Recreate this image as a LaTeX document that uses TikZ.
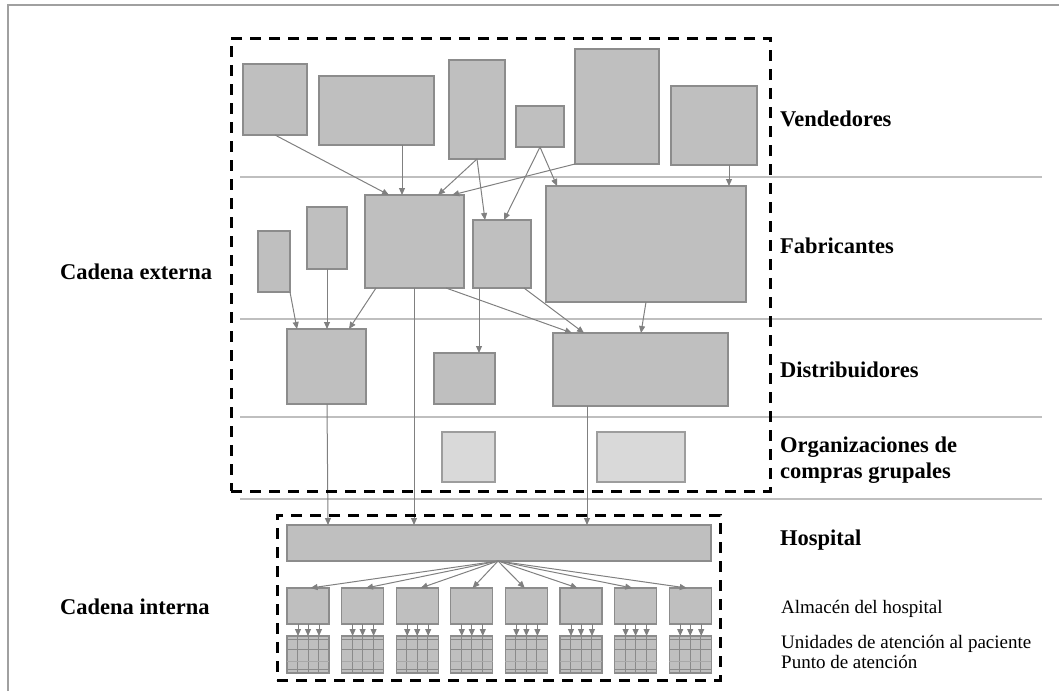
\documentclass[tikz,border=0pt]{standalone}
\usepackage{fontspec}
\setmainfont{Liberation Serif}
\usetikzlibrary{arrows.meta}
\definecolor{boxfill}{HTML}{BFBFBF}
\definecolor{boxedge}{HTML}{8C8C8C}
\definecolor{lightfill}{HTML}{D9D9D9}
\definecolor{arrowgray}{HTML}{808080}
\definecolor{rulegray}{HTML}{BFBFBF}
\definecolor{framegray}{HTML}{A0A0A0}
\definecolor{gridline}{HTML}{8A8A8A}
\definecolor{gridlight}{HTML}{A8A8A8}

% box given by its top-left and bottom-right corners
\newcommand\putbox[6][box]{%
  \node[#1,minimum width={(#5-#3)*1pt},minimum height={(#6-#4)*1pt}] (#2) at (#3,#4) {};}

\begin{document}
\begin{tikzpicture}[x=1pt,y=-1pt,
  box/.style={draw=boxedge,fill=boxfill,line width=1.2pt,inner sep=0pt,outer sep=0pt,anchor=north west},
  lightbox/.style={box,fill=lightfill,draw=boxedge!85},
  chainbox/.style={draw=black,line width=3pt,dash pattern=on 11pt off 8pt,inner sep=0pt,outer sep=0pt,anchor=north west},
  flow/.style={draw=arrowgray,line width=1pt,-{Triangle[length=7pt,width=6pt]}},
  sep/.style={draw=rulegray,line width=1.5pt},
  tier/.style={font=\fontsize{22.5}{26}\selectfont\bfseries,anchor=base west,inner sep=0pt},
  note/.style={font=\fontsize{19}{22}\selectfont,anchor=base west,inner sep=0pt}]

\useasboundingbox (0,0) rectangle (1059,691);

% page frame (top and left edges)
\draw[framegray,line width=2pt] (8,691) -- (8,5) -- (1059,5);

% tier separators
\foreach \yy in {177,319,417,499}
  \draw[sep] (240,\yy) -- (1042,\yy);

% vendors
\putbox{v1}{243}{64}{307}{135}
\putbox{v2}{319}{76}{434}{145}
\putbox{v3}{449}{60}{505}{159}
\putbox{v4}{516}{106}{564}{147}
\putbox{v5}{575}{49}{659}{164}
\putbox{v6}{671}{86}{757}{165}
% manufacturers
\putbox{f1}{258}{231}{290}{292}
\putbox{f2}{307}{207}{347}{269}
\putbox{f3}{365}{195}{464}{288}
\putbox{f4}{473}{220}{531}{288}
\putbox{f5}{546}{186}{746}{302}
% distributors
\putbox{d1}{287}{329}{366}{404}
\putbox{d2}{434}{353}{495}{404}
\putbox{d3}{553}{333}{728}{406}
% group purchasing organisations
\putbox[lightbox]{g1}{442}{432}{495}{482}
\putbox[lightbox]{g2}{597}{432}{685}{482}
% hospital
\putbox{h}{287}{525}{711}{561}

% vendors -> manufacturers
\draw[flow] (v1.south) -- ([xshift=24pt]f3.north west);
\draw[flow] ([xshift=83pt]v2.south west) -- ([xshift=37pt]f3.north west);
\draw[flow] ([xshift=28pt]v3.south west) -- ([xshift=73pt]f3.north west);
\draw[flow] (v5.south west) -- ([xshift=87pt]f3.north west);
\draw[flow] ([xshift=28pt]v3.south west) -- ([xshift=12pt]f4.north west);
\draw[flow] (v4.south) -- ([xshift=31pt]f4.north west);
\draw[flow] (v4.south) -- ([xshift=11pt]f5.north west);
\draw[flow] ([xshift=58pt]v6.south west) -- ([xshift=183pt]f5.north west);
% manufacturers -> distributors
\draw[flow] (f1.south east) -- ([xshift=10pt]d1.north west);
\draw[flow] (f2.south) -- ([xshift=40pt]d1.north west);
\draw[flow] ([xshift=11pt]f3.south west) -- ([xshift=62pt]d1.north west);
\draw[flow] ([xshift=81pt]f3.south west) -- ([xshift=19pt]d3.north west);
\draw[flow] ([xshift=51pt]f4.south west) -- ([xshift=31pt]d3.north west);
\draw[flow] ([xshift=100pt]f5.south west) -- ([xshift=88pt]d3.north west);
\draw[flow] ([xshift=6pt]f4.south west) -- ([xshift=45pt]d2.north west);
% supply into the hospital
\draw[flow] ([xshift=40pt]d1.south west) -- ([xshift=41pt]h.north west);
\draw[flow] ([xshift=49pt]f3.south west) -- ([xshift=127pt]h.north west);
\draw[flow] ([xshift=34pt]d3.south west) -- ([xshift=300pt]h.north west);

% hospital stores and points of care
\coordinate (hub) at ([xshift=211pt]h.south west);
\foreach \i/\o in {0/23.5,1/24.4,2/24.4,3/21.8,4/19.3,5/17.6,6/17.6,7/17.6}{
  \pgfmathsetmacro\xx{287+54.6*\i}
  \putbox{s\i}{\xx}{588}{\xx+42}{624}
  \putbox{u\i}{\xx}{636}{\xx+42}{673}
  \foreach \c in {10.5,21,31.5}
    \draw[gridline,line width=1pt] ([xshift=\c pt]u\i.north west) -- ([xshift=\c pt]u\i.south west);
  \draw[gridline,line width=1pt] ([yshift=-3.7pt]u\i.north west) -- ([yshift=-3.7pt]u\i.north east);
  \draw[gridline,line width=1pt] ([yshift=-13.7pt]u\i.north west) -- ([yshift=-13.7pt]u\i.north east);
  \draw[gridlight,line width=0.8pt] ([yshift=-25.2pt]u\i.north west) -- ([yshift=-25.2pt]u\i.north east);
  \draw[gridline,line width=1pt] ([yshift=-33.7pt]u\i.north west) -- ([yshift=-33.7pt]u\i.north east);
  \draw[flow] (hub) -- ([xshift=\o pt]s\i.north west);
  \foreach \c in {11,21,32}
    \draw[flow] ([xshift=\c pt]s\i.south west) -- ([xshift=\c pt]u\i.north west);
}

% chain boundaries
\putbox[chainbox]{ext}{231}{38}{770}{491}
\putbox[chainbox]{int}{277}{515}{720}{680}

% labels
\node[tier] (lv) at (780,126) {Vendedores};
\node[tier] (lf) at (780,253) {Fabricantes};
\node[tier] (ld) at (780,377) {Distribuidores};
\node[tier] (lo1) at (780,452) {Organizaciones de};
\node[tier] (lo2) at (780,478) {compras grupales};
\node[tier] (lh) at (780,545) {Hospital};
\node[tier] (lce) at (60,279) {Cadena externa};
\node[tier] (lci) at (60,614) {Cadena interna};
\node[note] (la) at (781,613) {Almacén del hospital};
\node[note] (lu) at (781,648) {Unidades de atención al paciente};
\node[note] (lp) at (781,668) {Punto de atención};
\end{tikzpicture}
\end{document}
